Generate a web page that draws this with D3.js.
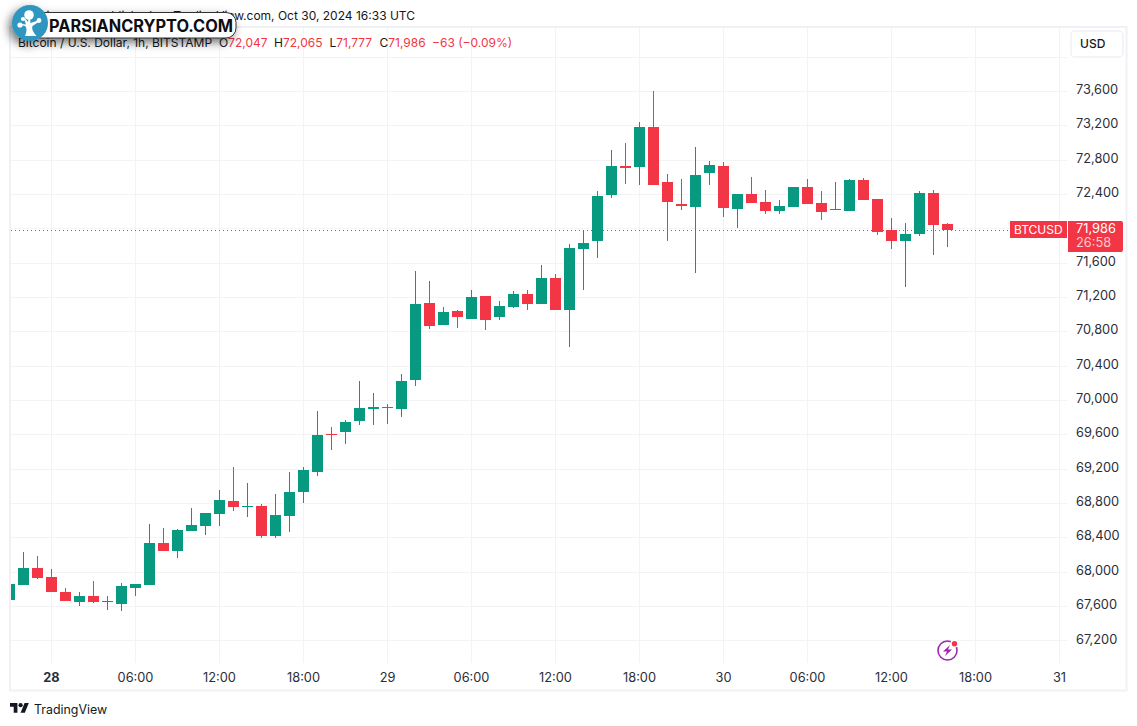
<!DOCTYPE html>
<html>
<head>
<meta charset="utf-8">
<script src="https://cdn.jsdelivr.net/npm/d3@7"></script>
<style>
    html, body { margin: 0; padding: 0; background: #fff; }
    svg { display: block; }
    text { font-family: Inter, "Noto Sans", sans-serif; fill: #131722; }
    .tick text { font-size: 12.8px; fill: #2a2e39; }
</style>
</head>
<body>
<div id="chart"></div>
<script>
// one hourly candle per entry, first one is Oct 27 21:00 UTC
const opens = [67670,67845,68043,67938,67763,67647,67717,67647,67624,67810,67845,68334,68241,68474,68532,68672,68824,68754,68765,68416,68649,68928,69161,69604,69627,69756,69895,69919,69895,70233,71130,70874,71037,70944,71212,70967,71084,71235,71119,71421,71049,71759,71853,72388,72726,72715,73181,72540,72284,72249,72645,72726,72225,72400,72307,72202,72249,72482,72295,72214,72202,72563,72342,71981,71853,71934,72412,72047];
const highs = [67857,68229,68183,68031,67810,67763,67892,67717,67868,67857,68556,68509,68497,68742,68684,68952,69220,69033,68789,68905,69161,69220,69872,69686,69767,70222,70082,69954,70303,71503,71387,71084,71049,71282,71212,71154,71270,71282,71573,71468,71818,71969,72435,72913,72994,73239,73600,72633,72575,72948,72785,72773,72400,72598,72447,72330,72482,72575,72435,72540,72575,72586,72342,72120,72062,72435,72447,72065];
const lows = [67670,67845,67915,67763,67659,67600,67635,67554,67542,67717,67845,68241,68159,68474,68427,68532,68707,68637,68392,68392,68462,68800,69115,69418,69488,69709,69709,69721,69802,70163,70827,70874,70839,70944,70816,70932,71072,71049,71119,71049,70618,71282,71654,72353,72517,72505,72505,71853,72214,71480,72505,72132,72004,72295,72167,72167,72249,72284,72097,72214,72202,72330,71922,71759,71317,71911,71689,71777];
const closes = [67857,68043,67926,67763,67659,67717,67647,67659,67833,67857,68334,68241,68486,68544,68684,68835,68754,68765,68416,68660,68928,69185,69592,69592,69744,69907,69919,69907,70222,71119,70862,71025,70967,71200,70932,71095,71235,71119,71421,71049,71771,71829,72377,72726,72703,73181,72505,72307,72260,72621,72738,72237,72400,72295,72202,72260,72482,72284,72190,72225,72563,72330,71957,71853,71934,72412,72039,71986];

const priceTicks = [67200,67600,68000,68400,68800,69200,69600,70000,70400,70800,71200,71600,72000,72400,72800,73200,73600];
const gridPrices = priceTicks.concat([74000]);
const dayTicks = ["2024-10-28T00:00Z","2024-10-28T06:00Z","2024-10-28T12:00Z","2024-10-28T18:00Z","2024-10-29T00:00Z","2024-10-29T06:00Z","2024-10-29T12:00Z","2024-10-29T18:00Z","2024-10-30T00:00Z","2024-10-30T06:00Z","2024-10-30T12:00Z","2024-10-30T18:00Z","2024-10-31T00:00Z"].map(d => new Date(d));
const firstCandle = new Date("2024-10-27T21:00Z");

const headerText = "mrtaiwanese published on TradingView.com, Oct 30, 2024 16:33 UTC";
const symbolText = "Bitcoin / U.S. Dollar, 1h, BITSTAMP";
const ohlcLabels = ["O", "H", "L", "C"];
const ohlcValues = ["72,047", "72,065", "71,777", "71,986"];
const changeText = "\u221263 (\u22120.09%)";
const lastPrice = 71986;
const countdown = "26:58";

/** CONSTANTS */
const width = 1137,
    height = 726,
    up = "#089981",
    down = "#F23645",
    gridColor = "#F3F3F5",
    frameColor = "#F0F1F6",
    plot = { left: 11, right: 1067, top: 28, bottom: 663 },
    bodyWidth = 11,
    legendSize = 12;

/** SCALES */
const xScale = d3.scaleUtc()
    .domain([dayTicks[0], dayTicks[dayTicks.length - 1]])
    .range([51.5, 1059.5]);

const yScale = d3.scaleLinear()
    .domain([67200, 73600])
    .range([640.4, 91]);

const candles = opens.map((o, i) => ({
    t: d3.utcHour.offset(firstCandle, i),
    o, h: highs[i], l: lows[i], c: closes[i]
}));

/** MAIN CODE */
const svg = d3.select("#chart").append("svg")
    .attr("width", width)
    .attr("height", height);

const defs = svg.append("defs");
defs.append("clipPath").attr("id", "plot-clip").append("rect")
    .attr("x", plot.left).attr("y", plot.top)
    .attr("width", plot.right - plot.left).attr("height", plot.bottom - plot.top);
const blur = defs.append("filter").attr("id", "mark-shadow")
    .attr("x", "-30%").attr("y", "-60%").attr("width", "160%").attr("height", "240%");
blur.append("feDropShadow")
    .attr("dx", -3).attr("dy", 4).attr("stdDeviation", 5)
    .attr("flood-color", "#000").attr("flood-opacity", 0.55);

// frame
svg.append("rect")
    .attr("x", 10).attr("y", 27)
    .attr("width", 1116.5).attr("height", 663.5)
    .attr("fill", "none")
    .attr("stroke", frameColor)
    .attr("stroke-width", 2);

// grid
svg.append("g").selectAll("line")
    .data(gridPrices)
    .join("line")
    .attr("x1", plot.left).attr("x2", plot.right)
    .attr("y1", d => Math.round(yScale(d)) + 0.5)
    .attr("y2", d => Math.round(yScale(d)) + 0.5)
    .attr("stroke", gridColor);

svg.append("g").selectAll("line")
    .data(dayTicks)
    .join("line")
    .attr("x1", d => xScale(d)).attr("x2", d => xScale(d))
    .attr("y1", plot.top).attr("y2", plot.bottom)
    .attr("stroke", gridColor);

// candles
const candleG = svg.append("g").attr("clip-path", "url(#plot-clip)");

// last price line
candleG.append("line")
    .attr("x1", plot.left).attr("x2", 1010)
    .attr("y1", Math.round(yScale(lastPrice)) + 0.5)
    .attr("y2", Math.round(yScale(lastPrice)) + 0.5)
    .attr("stroke", down)
    .attr("stroke-dasharray", "1 3");

candleG.selectAll("rect.wick")
    .data(candles)
    .join("rect")
    .attr("class", "wick")
    .attr("x", d => Math.floor(xScale(d.t)))
    .attr("width", 1)
    .attr("y", d => Math.round(yScale(d.h)))
    .attr("height", d => Math.max(1, Math.round(yScale(d.l)) - Math.round(yScale(d.h))))
    .attr("fill", d => d.c >= d.o ? up : down);

candleG.selectAll("rect.body")
    .data(candles)
    .join("rect")
    .attr("class", "body")
    .attr("x", d => xScale(d.t) - bodyWidth / 2)
    .attr("width", bodyWidth)
    .attr("y", d => Math.round(yScale(Math.max(d.o, d.c))))
    .attr("height", d => Math.max(1, Math.round(yScale(Math.min(d.o, d.c))) - Math.round(yScale(Math.max(d.o, d.c)))))
    .attr("fill", d => d.c >= d.o ? up : down);

// axes
const yAxis = d3.axisRight(yScale)
    .tickValues(priceTicks.filter(d => d !== 72000)) // 72,000 sits under the price label
    .tickFormat(d3.format(","))
    .tickSize(0);

svg.append("g")
    .attr("transform", "translate(1076,-1.5)")
    .call(yAxis)
    .call(g => g.select(".domain").remove())
    .call(g => g.selectAll("text").attr("x", 0));

const xAxis = d3.axisBottom(xScale)
    .tickValues(dayTicks)
    .tickFormat(d => d.getUTCHours() === 0 ? d3.utcFormat("%d")(d) : d3.utcFormat("%H:%M")(d))
    .tickSize(0);

svg.append("g")
    .attr("transform", "translate(-0.5,670)")
    .call(xAxis)
    .call(g => g.select(".domain").remove())
    .call(g => g.selectAll("text").attr("y", 3))
    .call(g => g.selectAll(".tick").filter((d, i) => i === 0).select("text").attr("font-weight", 700));

// USD button
svg.append("rect")
    .attr("x", 1071).attr("y", 31)
    .attr("width", 52).attr("height", 26).attr("rx", 4)
    .attr("fill", "#fff").attr("stroke", frameColor).attr("stroke-width", 1.5);
svg.append("text")
    .attr("x", 1080).attr("y", 48)
    .attr("font-size", 12)
    .attr("font-weight", 500)
    .text("USD");

// price labels on the right
svg.append("rect")
    .attr("x", 1010).attr("y", 221).attr("width", 57).attr("height", 17)
    .attr("fill", down);
svg.append("text")
    .attr("x", 1014).attr("y", 234)
    .attr("font-size", 12)
    .style("fill", "#fff")
    .text("BTCUSD");
svg.append("path")
    .attr("d", "M1068,221H1121a2,2 0 0 1 2,2V250a2,2 0 0 1 -2,2H1068Z")
    .attr("fill", down);
svg.append("text")
    .attr("x", 1076).attr("y", 233)
    .attr("font-size", 12.8)
    .style("fill", "#fff")
    .text(d3.format(",")(lastPrice));
svg.append("text")
    .attr("x", 1076).attr("y", 247)
    .attr("font-size", 12.8)
    .style("fill", "#FBC9CE")
    .text(countdown);

// header and legend
svg.append("text")
    .attr("x", 415).attr("y", 20)
    .attr("text-anchor", "end")
    .attr("font-size", 12)
    .text(headerText);

svg.append("text")
    .attr("x", 18).attr("y", 47)
    .attr("font-size", legendSize)
    .text(symbolText);

const ohlcX = [219, 274, 329.5, 379.5];
const ohlcG = svg.append("g");
ohlcLabels.forEach((label, i) => {
    const t = ohlcG.append("text")
        .attr("x", ohlcX[i]).attr("y", 47)
        .attr("font-size", legendSize);
    t.append("tspan").text(label);
    t.append("tspan").style("fill", down).text(ohlcValues[i]);
});
svg.append("text")
    .attr("x", 432).attr("y", 47)
    .attr("font-size", legendSize)
    .style("fill", down)
    .text(changeText);

// lightning badge
const badge = svg.append("g").attr("transform", "translate(947.5,650.5)");
badge.append("circle")
    .attr("r", 9.5)
    .attr("fill", "none")
    .attr("stroke", "#9C27B0")
    .attr("stroke-width", 1.6);
badge.append("path")
    .attr("d", "M2.5,-5.5 L-4.5,1 H-0.5 L-2.5,5.5 L4.5,-1 H0.5 Z")
    .attr("fill", "#9C27B0");
badge.append("circle")
    .attr("cx", 7).attr("cy", -7).attr("r", 4)
    .attr("fill", "#fff");
badge.append("circle")
    .attr("cx", 7).attr("cy", -6.8).attr("r", 2.7)
    .attr("fill", down);

// TradingView mark
const tvLogo = svg.append("g").attr("transform", "translate(10,701) scale(0.53)");
tvLogo.append("path")
    .attr("d", "M14 22H7V11H0V4h14v18zM28 22h-8l7.5-18h8L28 22z")
    .attr("fill", "#131722");
tvLogo.append("circle").attr("cx", 20).attr("cy", 8).attr("r", 4).attr("fill", "#131722");
svg.append("text")
    .attr("x", 34).attr("y", 714)
    .attr("font-size", 12.4)
    .text("TradingView");

// watermark stuck over the top left corner
const stamp = svg.append("g");
const stampShadow = stamp.append("g").attr("filter", "url(#mark-shadow)");
stampShadow.append("rect")
    .attr("x", 30).attr("y", 12.5)
    .attr("width", 206).attr("height", 25.5).attr("rx", 10)
    .attr("fill", "#fff")
    .attr("stroke", "#333")
    .attr("stroke-width", 1);
stampShadow.append("circle")
    .attr("cx", 30).attr("cy", 23).attr("r", 18)
    .attr("fill", "#2F96BF");
stamp.append("text")
    .attr("x", 49).attr("y", 32)
    .attr("font-size", 17)
    .attr("font-weight", 700)
    .attr("font-family", "Roboto, Inter, sans-serif")
    .attr("textLength", 184)
    .attr("lengthAdjust", "spacingAndGlyphs")
    .style("fill", "#0d0d12")
    .text("PARSIANCRYPTO.COM");

const tree = stamp.append("g").attr("fill", "#fff");
tree.append("path")
    .attr("d", "M25,36 C27,31 27,28 25,26 L21,25 L22,24 L26,24.5 L24,19 L25,18.5 L28,22 L28.5,18 L30,18 L30.5,23 L38,20.5 L38.5,22 L32.5,26 C31.5,29 33,32 36.5,36 Z");
tree.append("circle").attr("cx", 29).attr("cy", 15).attr("r", 4.8);
tree.append("circle").attr("cx", 20).attr("cy", 25).attr("r", 2.6);
tree.append("circle").attr("cx", 23).attr("cy", 19).attr("r", 2.1);
tree.append("circle").attr("cx", 39).attr("cy", 20.5).attr("r", 2.4);
</script>
</body>
</html>
